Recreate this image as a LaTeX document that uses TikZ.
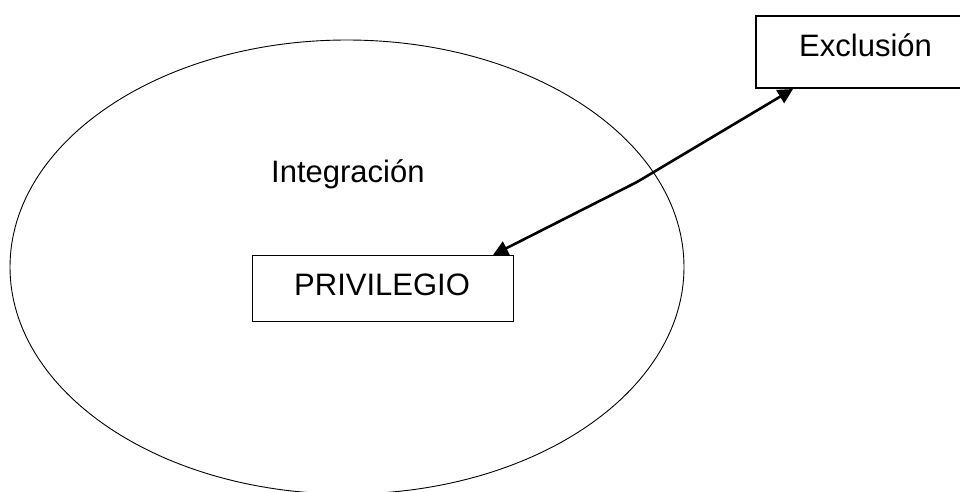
\documentclass[tikz,border=0pt]{standalone}
\usepackage{fontspec}
\setmainfont{Liberation Sans}
\usetikzlibrary{shapes.geometric,arrows.meta,calc}
\tikzset{
  boxthin/.style={draw=black, line width=1.3pt, inner sep=0pt, anchor=north west},
  boxthick/.style={draw=black, line width=2pt, inner sep=0pt, anchor=north west},
  lbl/.style={font=\fontsize{31}{36}\selectfont, inner sep=0pt, anchor=base west},
  link/.style={line width=2.6pt, {Triangle[length=15pt,width=15pt]}-{Triangle[length=15pt,width=15pt]}}
}
\begin{document}
\begin{tikzpicture}[x=1pt,y=-1pt]
\useasboundingbox (0,0) rectangle (960,491);
\clip (0,0) rectangle (960,491);
\fill[white] (0,0) rectangle (960,491);
\node[ellipse, draw=black, line width=0.9pt, minimum width=674pt, minimum height=454pt, inner sep=0pt] (ell) at (347,267) {};
\node[boxthin, minimum width=261pt, minimum height=66pt] (priv) at (252,255) {};
\node[boxthick, minimum width=230pt, minimum height=72pt] (excl) at (755,15) {};
\node[lbl] (tint) at (271,182) {Integración};
\node[lbl] (tpriv) at (294,295) {PRIVILEGIO};
\node[lbl] (texcl) at (799,56) {Exclusión};
\coordinate (k) at (637,182);
\draw[link] ($(priv.north west)+(241,0)$) -- (k) -- ($(excl.south west)+(38,0)$);
\end{tikzpicture}
\end{document}
